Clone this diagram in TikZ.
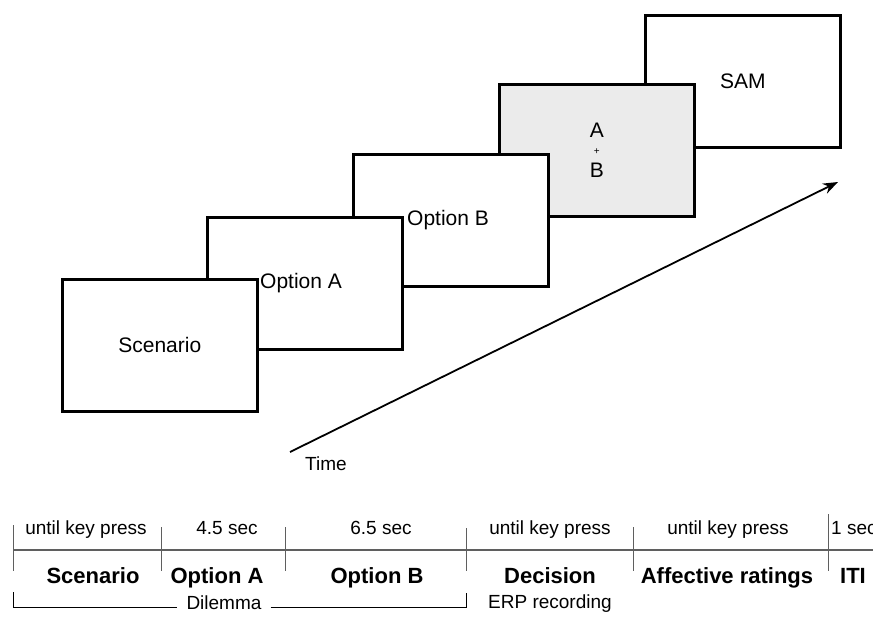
\documentclass[tikz,border=0pt]{standalone}
\usepackage{fontspec}
\setmainfont{Liberation Sans}
\usetikzlibrary{arrows.meta}
\definecolor{decgray}{RGB}{235,235,235}
\definecolor{axisgray}{RGB}{95,95,95}
\begin{document}
\begin{tikzpicture}[x=1pt,y=-1pt,
        screen/.style={draw, line width=2.6pt, fill=white, minimum width=195pt, minimum height=132pt,
            anchor=north west, inner sep=0pt, align=center, font=\fontsize{21}{20}\selectfont},
        durlabel/.style={anchor=base, inner sep=0pt, font=\fontsize{19}{22}\selectfont},
        phaselabel/.style={anchor=base, inner sep=0pt, font=\fontsize{22}{26}\selectfont\bfseries},
        ticks/.style={line width=0.9pt, axisgray}]
        \useasboundingbox (0,0) rectangle (873,616);
        % screens, back to front
            \node[screen] (sam) at (644,14) {SAM};
            \node[screen, fill=decgray] (dec) at (498,83) {A\\[-3pt]{\fontsize{10}{10}\selectfont +}\\[3pt]B};
            \node[screen] (optb) at (352,153) {};
            \node[screen] (opta) at (206,216) {};
            \node[screen] (scen) at (61,278) {Scenario};
            \node[anchor=west, inner sep=0pt, font=\fontsize{21}{24}\selectfont] (labB) at (407,220) {Option B};
            \node[anchor=west, inner sep=0pt, font=\fontsize{21}{24}\selectfont] (labA) at (260,283) {Option A};
        % time arrow
            \coordinate (t0) at (290,452);
            \coordinate (t1) at (838,182);
            \draw[-{Stealth[length=15pt,width=11pt]}, line width=1.8pt] (t0) -- (t1);
            \node[anchor=base west, inner sep=0pt, font=\fontsize{19}{22}\selectfont] (time) at (305,470) {Time};
        % timeline
            \coordinate (axl) at (13,550);
            \coordinate (axr) at (873,550);
            \draw[line width=1.4pt, axisgray] (axl) -- (axr);
            \foreach \n/\x/\top in {0/13/525,1/161/527,2/285/527,3/466/528,4/633/527,5/828/514}{
                \coordinate (up\n) at (\x,\top);
                \coordinate (dn\n) at (\x,571);
                \draw[ticks] (up\n) -- (dn\n);
            }
            \foreach \n/\x/\txt in {1/86/until key press,2/227/4.5 sec,3/381/6.5 sec,4/550/until key press,5/728/until key press}{
                \node[durlabel] (dur\n) at (\x,534) {\txt};
            }
            \node[durlabel, anchor=base west] (dur6) at (831,534) {1 sec};
            \foreach \n/\x/\txt in {1/93/Scenario,2/217/Option A,3/377/Option B,4/550/Decision,5/727/Affective ratings,6/853/ITI}{
                \node[phaselabel] (ph\n) at (\x,583) {\txt};
            }
        % brackets
            \coordinate (dl0) at (13,592);
            \coordinate (dl1) at (13,607);
            \coordinate (dl2) at (466,607);
            \coordinate (dl3) at (466,593);
            \node[inner xsep=9pt, inner ysep=0pt, font=\fontsize{19}{22}\selectfont] (dilemma) at (224,603) {Dilemma};
            \draw[line width=1pt] (dl0) -- (dl1) -- (dilemma.west |- dl1);
            \draw[line width=1pt] (dilemma.east |- dl2) -- (dl2) -- (dl3);
            \node[durlabel, anchor=base west] (erp) at (488,608) {ERP recording};
\end{tikzpicture}
\end{document}
